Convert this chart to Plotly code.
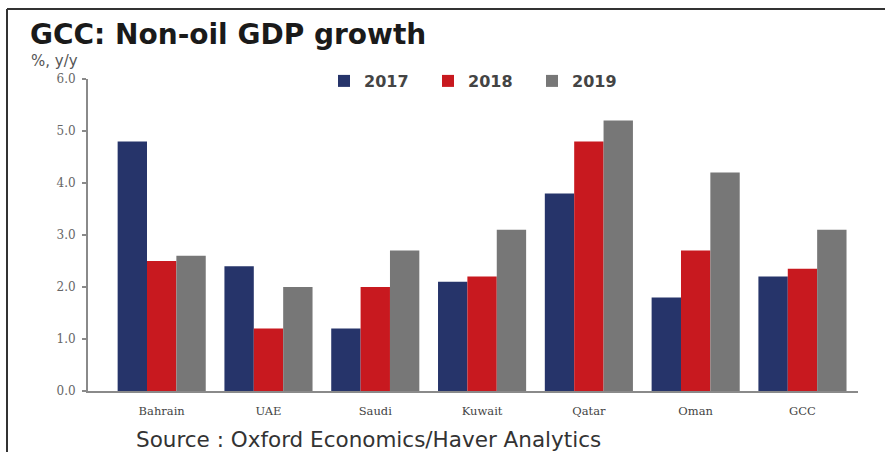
import plotly.graph_objects as go

categories = ["Bahrain", "UAE", "Saudi", "Kuwait", "Qatar", "Oman", "GCC"]
years = ["2017", "2018", "2019"]
v2017 = [4.8, 2.4, 1.2, 2.1, 3.8, 1.8, 2.2]
v2018 = [2.5, 1.2, 2.0, 2.2, 4.8, 2.7, 2.35]
v2019 = [2.6, 2.0, 2.7, 3.1, 5.2, 4.2, 3.1]
colors = ["#26346A", "#C8191F", "#777777"]
y_ticks = [0, 1, 2, 3, 4, 5, 6]

W, H = 885, 452
L, R, T, B = 88, 27, 79, 61
pw, ph = W - L - R, H - T - B


def px_x(px):
    return (px - L) / pw


def px_y(py):
    return (H - B - py) / ph


fig = go.Figure()
for name, vals, col in zip(years, [v2017, v2018, v2019], colors):
    fig.add_trace(go.Bar(x=categories, y=vals, name=name, marker_color=col,
                         marker_line_width=0))

fig.update_layout(
    width=W, height=H,
    margin=dict(l=L, r=R, t=T, b=B, autoexpand=False),
    paper_bgcolor="white", plot_bgcolor="white",
    barmode="group", bargap=0.175, bargroupgap=0,
    title=dict(text="<b>GCC: Non-oil GDP growth</b>", xref="container", yref="container",
               x=30 / W, xanchor="left", y=1 - 34 / H, yanchor="middle",
               font=dict(family="DejaVu Sans", size=28, color="#1a1a1a")),
    legend=dict(orientation="h", x=px_x(324), xanchor="left", y=px_y(81), yanchor="middle",
                font=dict(family="DejaVu Sans", size=16, color="#444444", weight="bold"),
                entrywidth=59, entrywidthmode="pixels", itemwidth=30,
                bgcolor="rgba(0,0,0,0)", tracegroupgap=0),
    xaxis=dict(range=[-0.69, 6.52], showline=True, linecolor="#8a8a8a", linewidth=2,
               ticks="", showgrid=False, zeroline=False,
               tickfont=dict(family="DejaVu Serif", size=11.5, color="#444444"),
               ticklabelstandoff=8),
    yaxis=dict(range=[0, 6], tickvals=y_ticks, tickformat=".1f", showline=True,
               linecolor="#8a8a8a", linewidth=2, ticks="outside", ticklen=4,
               tickcolor="#8a8a8a", tickwidth=1.5, showgrid=False, zeroline=False,
               tickfont=dict(family="DejaVu Serif", size=12, color="#666666"),
               ticklabelstandoff=4),
    showlegend=True,
)

fig.add_annotation(text="%, y/y", xref="paper", yref="paper", x=px_x(29), y=px_y(61),
                   xanchor="left", yanchor="middle", showarrow=False,
                   font=dict(family="DejaVu Sans", size=15, color="#555555"))
fig.add_annotation(text="Source : Oxford Economics/Haver Analytics", xref="paper", yref="paper",
                   x=px_x(134), y=px_y(440), xanchor="left", yanchor="middle", showarrow=False,
                   font=dict(family="DejaVu Sans", size=21.5, color="#333333"))

# frame lines (top and left)
fig.add_shape(type="line", xref="paper", yref="paper", x0=px_x(7), x1=px_x(885),
              y0=px_y(9), y1=px_y(9), line=dict(color="#333333", width=2))
fig.add_shape(type="line", xref="paper", yref="paper", x0=px_x(7), x1=px_x(7),
              y0=px_y(9), y1=px_y(460), line=dict(color="#333333", width=2))

fig.write_html("out.html")
